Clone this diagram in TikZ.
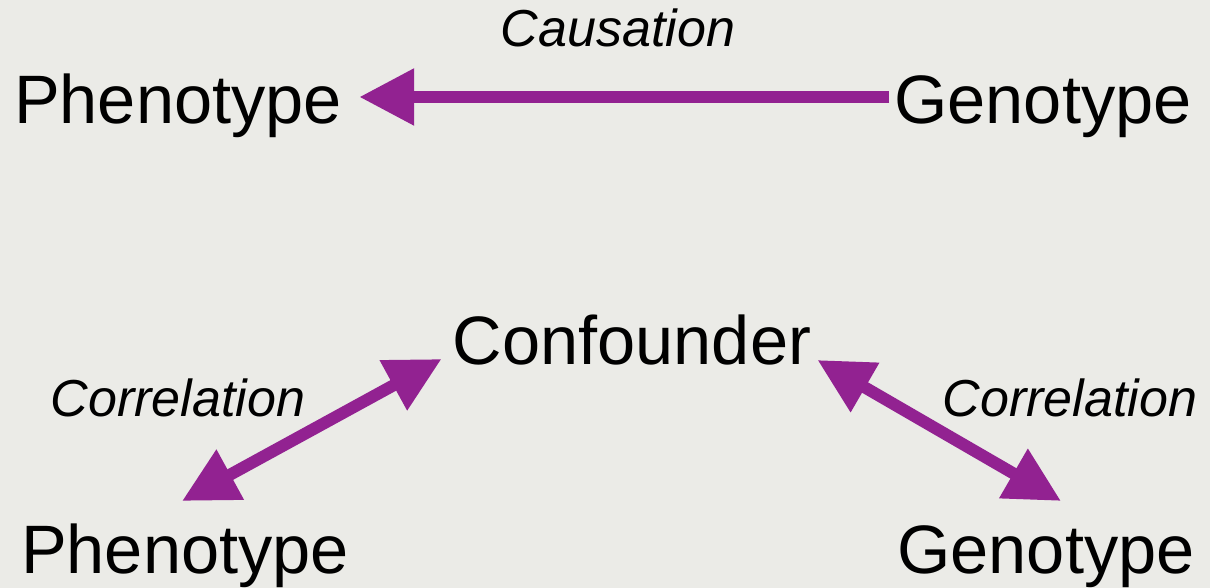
\documentclass[tikz,border=0pt]{standalone}
\usepackage{fontspec}
\setmainfont{Liberation Sans}
\usetikzlibrary{arrows.meta, positioning}
\definecolor{bgpaper}{HTML}{EBEBE7}
\definecolor{arrowpurple}{HTML}{922291}

\begin{document}
\begin{tikzpicture}[
    term/.style={inner sep=0pt, anchor=base, font=\fontsize{39}{44}\selectfont},
    relation/.style={inner sep=0pt, anchor=base, font=\fontsize{29.6}{34}\selectfont\itshape},
    arrow/.style={-{Triangle[length=1.1cm, width=1.08cm]}, line width=0.24cm, draw=arrowpurple},
    dblarrow/.style={{Triangle[length=1.1cm, width=1.08cm]}-{Triangle[length=1.1cm, width=1.08cm]}, line width=0.24cm, draw=arrowpurple}
]
    \fill[bgpaper] (0,0) rectangle (24.2,11.76);
    \useasboundingbox (0,0) rectangle (24.2,11.76);

    % causation
    \node[term] (phen1) at (3.56,9.28) {Phenotype};
    \node[term] (geno1) at (20.86,9.28) {Genotype};
    \node[relation] (caus) at (12.36,10.82) {Causation};

    % confounded correlation
    \node[term] (conf) at (12.64,4.46) {Confounder};
    \node[term] (phen2) at (3.70,0.28) {Phenotype};
    \node[term] (geno2) at (20.92,0.28) {Genotype};
    \node[relation] (corrL) at (3.56,3.42) {Correlation};
    \node[relation] (corrR) at (21.4,3.42) {Correlation};

    \draw[arrow] ([shift={(-0.1,0.54)}]geno1.base west) -- ([shift={(0.34,0.54)}]phen1.base east);
    \draw[dblarrow] ([shift={(-0.06,1.46)}]phen2.base) -- ([shift={(-0.22,0.12)}]conf.base west);
    \draw[dblarrow] ([shift={(0.12,0.10)}]conf.base east) -- ([shift={(0.30,1.46)}]geno2.base);
\end{tikzpicture}
\end{document}
